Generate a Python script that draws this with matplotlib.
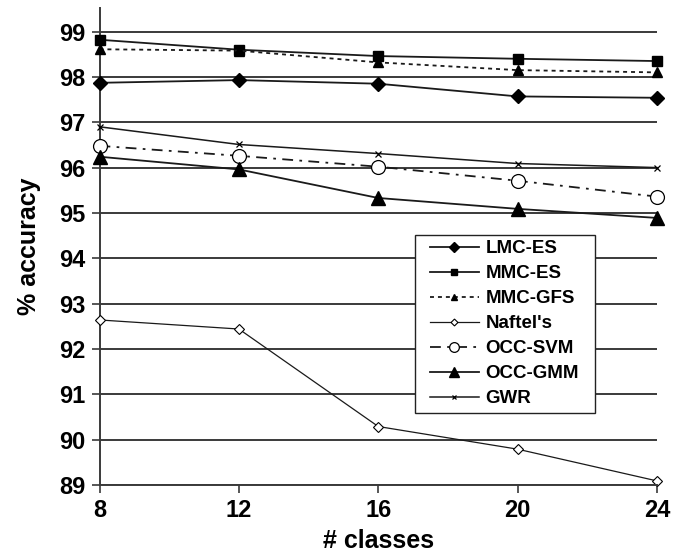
import matplotlib
matplotlib.use("Agg")
import matplotlib.pyplot as plt
from matplotlib.patches import Rectangle

plt.rcParams['font.family'] = ['Liberation Sans', 'DejaVu Sans']

classes = [8, 12, 16, 20, 24]
lmc_es = [97.87, 97.93, 97.85, 97.57, 97.54]
mmc_es = [98.82, 98.60, 98.46, 98.40, 98.35]
mmc_gfs = [98.61, 98.58, 98.32, 98.15, 98.10]
naftels = [92.64, 92.44, 90.29, 89.79, 89.09]
occ_svm = [96.48, 96.26, 96.02, 95.71, 95.36]
occ_gmm = [96.24, 95.96, 95.33, 95.09, 94.89]
gwr = [96.90, 96.51, 96.31, 96.09, 96.00]
yticks = list(range(89, 100))

W, H = 684, 555
fig = plt.figure(figsize=(W/100, H/100), dpi=100)
ax = fig.add_axes([99.5/W, 1-485/H, (657-99.5)/W, (485-8)/H])

lc = '#1a1a1a'
common = dict(color=lc, zorder=5, clip_on=False)
ax.plot(classes, lmc_es, lw=1.3, marker='D', ms=7, mfc='black', mec='black', label='LMC-ES', **common)
ax.plot(classes, mmc_es, lw=1.3, marker='s', ms=6.5, mfc='black', mec='black', label='MMC-ES', **common)
ax.plot(classes, mmc_gfs, lw=1.3, ls=(0, (2.2, 2.2)), marker='^', ms=7, mfc='black', mec='black', label='MMC-GFS', **common)
ax.plot(classes, naftels, lw=0.9, marker='D', ms=5, mfc='white', mec='black', mew=0.8, label="Naftel's", **common)
ax.plot(classes, occ_svm, lw=1.3, ls=(0, (6, 3.5, 1.5, 3.5)), marker='o', ms=10, mfc='white', mec='black', mew=0.9, label='OCC-SVM', **common)
ax.plot(classes, occ_gmm, lw=1.3, marker='^', ms=10, mfc='black', mec='black', label='OCC-GMM', **common)
ax.plot(classes, gwr, lw=1.1, marker='x', ms=5, mec='black', mew=0.9, label='GWR', **common)

ax.set_xlim(8, 24)
ax.set_ylim(89, 99.52)
ax.set_xticks(classes)
ax.set_yticks(yticks)
ax.set_xticklabels([str(c) for c in classes], fontsize=17, fontweight='bold')
ax.set_yticklabels([str(t) for t in yticks], fontsize=17, fontweight='bold')
ax.yaxis.grid(True, color='#3a3a3a', lw=1.4)
ax.set_axisbelow(True)
for s in ['top', 'right']:
    ax.spines[s].set_visible(False)
for s in ['left', 'bottom']:
    ax.spines[s].set_color('#3a3a3a')
    ax.spines[s].set_linewidth(1.4)
ax.tick_params(axis='both', direction='out', length=6, width=1.2, color='#3a3a3a', pad=4)
ax.spines['bottom'].set_zorder(6)

ax.set_xlabel('# classes', fontsize=18, fontweight='bold', labelpad=5)
ax.set_ylabel('% accuracy', fontsize=18, fontweight='bold', labelpad=13)

# legend frame (drawn separately to get the wider left padding of the original)
frame = Rectangle((415/W, 1-413/H), (595-415)/W, (413-235)/H, transform=fig.transFigure,
                  facecolor='white', edgecolor='#222222', lw=1.0, zorder=9)
fig.add_artist(frame)

leg = fig.legend(*ax.get_legend_handles_labels(), loc='upper left',
                 bbox_to_anchor=(430/W, 1-240/H), bbox_transform=fig.transFigure,
                 numpoints=1, prop={'weight': 'bold', 'size': 13.5},
                 frameon=False, handlelength=2.6, handletextpad=0.37, labelspacing=0.42,
                 borderpad=0, borderaxespad=0, markerscale=0.7)
leg.set_zorder(10)

fig.savefig('out.png', dpi=100)
